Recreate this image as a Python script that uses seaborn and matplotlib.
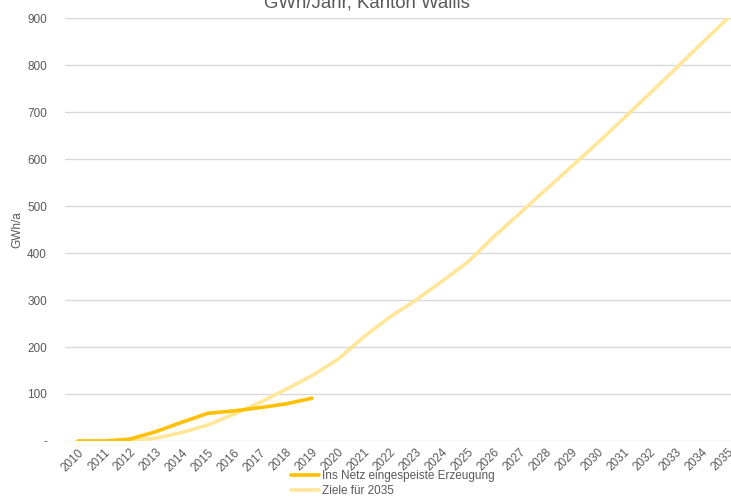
import numpy as np
import pandas as pd
import matplotlib
matplotlib.use("Agg")
import matplotlib.pyplot as plt
import seaborn as sns

# Data
years = list(range(2010, 2036))
ist = [0, 0, 4, 20, 40, 59, 64, 71, 79, 91]  # 2010-2019
ziele = [0, 0, 1, 6, 18, 34, 57, 82, 110, 139, 174, 222, 264, 300, 340, 381,
         435, 485, 535, 585, 635, 687, 740, 793, 847, 900]
y_ticks = [0, 100, 200, 300, 400, 500, 600, 700, 800, 900]
y_ticklabels = ["-", "100", "200", "300", "400", "500", "600", "700", "800", "900"]

label_ist = "Ins Netz eingespeiste Erzeugung"
label_ziel = "Ziele für 2035"

df = pd.concat([
    pd.DataFrame({"Jahr": years[:len(ist)], "GWh": ist, "Serie": label_ist}),
    pd.DataFrame({"Jahr": years, "GWh": ziele, "Serie": label_ziel}),
])

sns.set_theme(style="white")
plt.rcParams["font.family"] = ["Liberation Sans", "DejaVu Sans"]
grey = "#595959"

W, H = 731, 496
fig = plt.figure(figsize=(W / 100, H / 100), dpi=100)
# plot area in pixels: left 65, right 741 (cut by the image), top 18, bottom 441
ax = fig.add_axes([65 / W, 1 - 441 / H, (741 - 65) / W, (441 - 18) / H])

# goal line first so the actual line sits on top
sns.lineplot(data=df[df["Serie"] == label_ziel], x="Jahr", y="GWh", color="#FFE699",
             lw=2.6, ax=ax, legend=False, solid_capstyle="round")
sns.lineplot(data=df[df["Serie"] == label_ist], x="Jahr", y="GWh", color="#FFC000",
             lw=2.6, ax=ax, legend=False, solid_capstyle="round")

ax.set_xlim(2009.5, 2035.5)
ax.set_ylim(0, 900)
ax.set_yticks(y_ticks)
ax.set_yticklabels(y_ticklabels, fontsize=8.5, color=grey)
ax.set_xticks(years)
ax.set_xticklabels([str(y) for y in years], rotation=45, ha="right", va="top",
                   rotation_mode="anchor", fontsize=8.5, color=grey)
ax.tick_params(axis="y", length=0, pad=13)
ax.tick_params(axis="x", length=0, pad=4)
ax.grid(axis="y", color="#D9D9D9", lw=1)
ax.set_axisbelow(True)
for s in ax.spines.values():
    s.set_visible(False)
ax.set_xlabel("")
ax.set_ylabel("")

fig.text(17 / W, 1 - 230 / H, "GWh/a", rotation=90, ha="center", va="center",
         fontsize=8.5, color=grey)
# title is partly cut off by the top edge, as in the reference
fig.text(367 / W, 1 - 8 / H, "GWh/Jahr, Kanton Wallis", ha="center", va="baseline",
         fontsize=13.4, color=grey)

handles = [plt.Line2D([], [], color="#FFC000", lw=2.6),
           plt.Line2D([], [], color="#FFE699", lw=2.6)]
fig.legend(handles, [label_ist, label_ziel], loc="upper left",
           bbox_to_anchor=(291 / W, 1 - 470 / H), frameon=False, fontsize=8.5,
           labelcolor=grey, handlelength=2.4, handletextpad=0.2, labelspacing=0.25,
           borderpad=0, borderaxespad=0)

fig.savefig("out.png", dpi=100)
